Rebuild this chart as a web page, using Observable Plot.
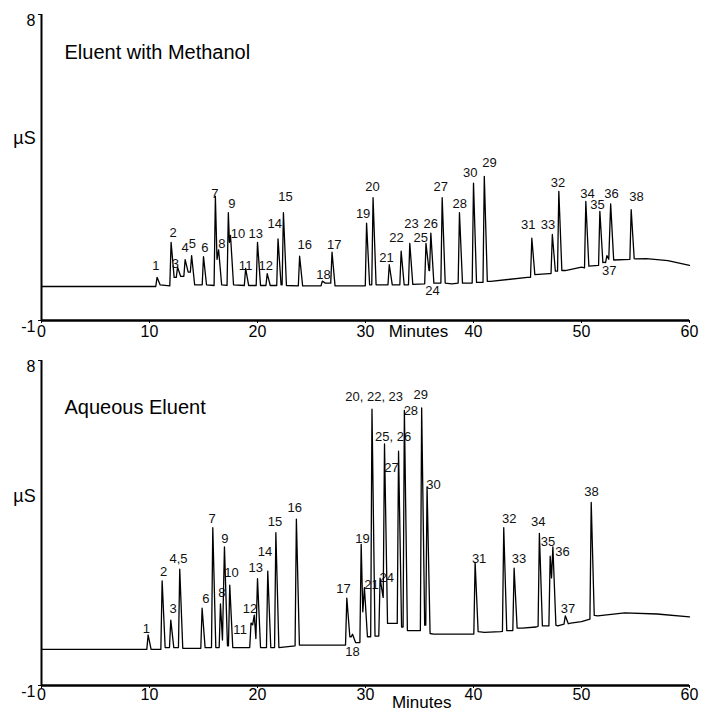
<!DOCTYPE html>
<html>
<head>
<meta charset="utf-8">
<script src="https://cdn.jsdelivr.net/npm/d3@7"></script>
<script src="https://cdn.jsdelivr.net/npm/@observablehq/plot@0.6"></script>
<style>
  html, body { margin: 0; padding: 0; background: #fff; }
  #chart svg { display: block; }
</style>
</head>
<body>
<div id="chart"></div>
<script>
// ---------- data ----------
// x tick labels (minutes) and y tick labels (µS)
const xTicks = [0, 10, 20, 30, 40, 50, 60];
const yTicks = [-1, 8];

// Panel 1: Eluent with Methanol — peaks [retention time, apex µS, left foot µS, right foot µS]
const methanolPeaks = [
  [10.7, 0.27, 0.0, 0.05], [12.0, 1.30, 0.02, 0.27], [12.6, 0.57, 0.27, 0.3],
  [13.3, 0.79, 0.3, 0.42], [13.9, 0.91, 0.42, 0.05], [15.0, 0.88, 0.05, 0.05],
  [16.1, 2.65, 0.03, 0.8], [16.4, 1.08, 0.8, 0.05], [17.3, 2.17, 0.03, 1.3],
  [17.5, 1.50, 1.3, 0.05], [18.9, 0.53, 0.03, 0.03], [20.0, 1.30, 0.03, 0.03],
  [20.9, 0.38, 0.03, 0.03], [21.9, 1.40, 0.03, 0.05], [22.4, 2.17, 0.05, 0.03],
  [23.9, 0.89, 0.02, 0.02], [26.0, 0.16, 0.02, 0.1], [26.9, 1.01, 0.1, 0.02],
  [30.1, 1.86, 0.02, 0.05], [30.7, 2.61, 0.05, 0.05], [32.2, 0.64, 0.05, 0.05],
  [33.3, 1.04, 0.05, 0.05], [34.1, 1.27, 0.05, 0.06], [35.6, 1.27, 0.08, 0.47],
  [36.05, 1.57, 0.47, 0.1], [37.1, 2.61, 0.1, 0.1], [38.7, 2.17, 0.1, 0.1],
  [40.0, 3.04, 0.1, 0.12], [41.0, 3.24, 0.12, 0.15], [45.4, 1.42, 0.27, 0.35],
  [47.3, 1.53, 0.38, 0.45], [47.9, 2.80, 0.45, 0.47], [50.4, 2.50, 0.55, 0.6],
  [51.7, 2.21, 0.62, 0.7], [52.35, 0.91, 0.7, 0.8], [52.7, 2.43, 0.8, 0.78],
  [54.6, 2.26, 0.8, 0.82]
];
const methanolBaseline = [
  [0, 0], [10.3, 0], [29.8, 0.02], [33.0, 0.05], [38.0, 0.08], [41.6, 0.15],
  [45.0, 0.27], [47.0, 0.38], [48.5, 0.47], [50.0, 0.57], [52.0, 0.72],
  [55.0, 0.81], [56.0, 0.82], [58.0, 0.76], [60.0, 0.62]
];
// peak labels [text, minutes, µS]
const methanolLabels = [
  ["1", 10.58, 0.62], ["2", 12.19, 1.58], ["3", 12.4, 0.67], ["4", 13.3, 1.13],
  ["5", 13.98, 1.25], ["6", 15.12, 1.13], ["7", 16.05, 2.74], ["8", 16.7, 1.25],
  ["9", 17.62, 2.43], ["10", 18.2, 1.55], ["11", 18.9, 0.62], ["12", 20.77, 0.62],
  ["13", 19.84, 1.55], ["14", 21.6, 1.84], ["15", 22.6, 2.63], ["16", 24.38, 1.24],
  ["17", 27.1, 1.24], ["18", 26.1, 0.35], ["19", 29.78, 2.14], ["20", 30.65, 2.92],
  ["21", 31.94, 0.84], ["22", 32.87, 1.43], ["23", 34.26, 1.84], ["24", 36.2, -0.14],
  ["25", 35.12, 1.43], ["26", 36.05, 1.84], ["27", 36.97, 2.92], ["28", 38.73, 2.43],
  ["30", 39.69, 3.34], ["29", 41.48, 3.64], ["31", 45.06, 1.82], ["33", 46.9, 1.82],
  ["32", 47.83, 3.04], ["34", 50.56, 2.73], ["35", 51.48, 2.41], ["36", 52.78, 2.73],
  ["37", 52.56, 0.47], ["38", 55.1, 2.63]
];

// Panel 2: Aqueous Eluent
const aqueousPeaks = [
  [9.87, 0.40, 0.0, 0.0], [11.17, 1.90, 0.0, 0.05], [11.97, 0.81, 0.05, 0.05],
  [12.8, 2.22, 0.05, 0.03], [14.87, 1.14, 0.03, 0.05], [15.86, 3.37, 0.05, 0.05],
  [16.57, 1.26, 0.05, 0.26], [16.94, 2.84, 0.26, 0.1], [17.43, 1.78, 0.1, 0.05],
  [19.4, 0.73, 0.05, 0.68], [19.7, 0.95, 0.68, 0.3], [20.0, 1.96, 0.3, 0.05],
  [20.95, 2.17, 0.05, 0.05], [21.7, 3.23, 0.05, 0.05], [23.6, 3.61, 0.1, 0.12],
  [28.27, 1.42, 0.12, 0.35], [28.8, 0.42, 0.35, 0.19], [29.6, 2.91, 0.19, 1.04],
  [29.9, 1.71, 1.04, 0.35], [30.6, 6.65, 0.35, 0.37], [31.35, 1.97, 0.37, 1.44],
  [31.76, 5.69, 1.44, 0.72], [33.06, 5.49, 0.72, 0.62], [33.6, 6.62, 0.62, 0.52],
  [35.2, 6.69, 0.52, 0.67], [35.7, 4.50, 0.67, 0.44], [40.15, 2.41, 0.43, 0.49],
  [42.8, 3.37, 0.5, 0.52], [43.76, 2.25, 0.52, 0.59], [46.1, 3.21, 0.64, 0.65],
  [47.1, 2.58, 0.65, 1.98], [47.35, 2.84, 1.98, 0.67], [48.5, 0.93, 0.7, 0.71],
  [50.9, 4.07, 0.84, 0.94]
];
const aqueousBaseline = [
  [0, 0], [9.6, 0], [24.2, 0.12], [27.9, 0.12], [36.3, 0.42], [40.0, 0.42],
  [41.0, 0.47], [42.5, 0.49], [44.5, 0.59], [45.8, 0.62], [47.8, 0.65],
  [49.0, 0.73], [50.0, 0.77], [51.5, 0.93], [54.0, 1.01], [57.0, 0.98], [60.0, 0.9]
];
const aqueousLabels = [
  ["1", 9.72, 0.58], ["2", 11.3, 2.16], ["3", 12.19, 1.11], ["4,5", 12.68, 2.52],
  ["6", 15.21, 1.39], ["7", 15.8, 3.62], ["8", 16.7, 1.56], ["9", 16.97, 3.07],
  ["10", 17.6, 2.13], ["11", 18.39, 0.55], ["12", 19.3, 1.11], ["13", 19.84, 2.25],
  ["14", 20.7, 2.69], ["15", 21.63, 3.53], ["16", 23.45, 3.92], ["17", 27.96, 1.67],
  ["18", 28.8, -0.06], ["19", 29.72, 3.06], ["21", 30.56, 1.79], ["24", 31.97, 1.98],
  ["20, 22, 23", 30.8, 6.99], ["29", 35.12, 7.05], ["28", 34.2, 6.62],
  ["25, 26", 32.56, 5.88], ["27", 32.4, 5.02], ["30", 36.3, 4.56], ["31", 40.52, 2.52],
  ["32", 43.3, 3.62], ["33", 44.22, 2.52], ["34", 46.0, 3.53], ["35", 46.9, 2.97],
  ["36", 48.24, 2.69], ["37", 48.76, 1.12], ["38", 50.93, 4.35]
];

// ---------- drawing ----------
const LW = 0.12, RW = 0.28; // peak half-widths in minutes (left / right)

function buildTrace(peaks, baseline) {
  const ps = peaks.map(([t, h, fl, fr]) => ({t, h, fl, fr, lt: t - LW, rt: t + RW, shareLeft: false}))
    .sort((a, b) => a.t - b.t);
  for (let i = 0; i < ps.length - 1; i++) {
    const a = ps[i], b = ps[i + 1];
    if (a.rt > b.lt) { const m = (a.t + b.t) / 2; a.rt = m; b.lt = m; b.shareLeft = true; }
  }
  const pts = [];
  for (const p of ps) {
    if (!p.shareLeft) pts.push({t: p.lt, v: p.fl});
    pts.push({t: p.t, v: p.h});
    pts.push({t: p.rt, v: p.fr});
  }
  for (const [t, v] of baseline) {
    if (!ps.some(p => t >= p.lt && t <= p.rt)) pts.push({t, v});
  }
  return pts.sort((a, b) => a.t - b.t);
}

const FONT = "'Liberation Sans', Arial, Helvetica, sans-serif";

function panel(o) {
  const trace = buildTrace(o.peaks, o.baseline);
  return Plot.plot({
    width: 704, height: o.height,
    marginTop: o.marginTop, marginBottom: o.marginBottom, marginLeft: 41, marginRight: 15,
    style: {fontFamily: FONT, fontSize: "16px", color: "#000", background: "#fff", overflow: "visible"},
    x: {domain: [0, 60], ticks: xTicks, tickSize: 3, tickPadding: o.xPad, tickFormat: d => String(d), label: null},
    y: {domain: [-1, 8], ticks: yTicks, tickSize: 3, tickPadding: 3, tickFormat: () => "", label: null},
    marks: [
      Plot.text(o.labels, {x: d => d[1], y: d => d[2], text: d => d[0], fontSize: 13, lineAnchor: "middle", fill: "#111"}),
      Plot.line(trace, {x: "t", y: "v", stroke: "#000", strokeWidth: 1.3}),
      Plot.ruleY([-1], {stroke: "#000", strokeWidth: 2.5}),
      Plot.ruleX([0], {y1: -1, y2: 8, stroke: "#000", strokeWidth: 2}),
      Plot.text(yTicks, {x: 0, y: d => d, text: d => String(d), dx: -6, dy: 6, textAnchor: "end", lineAnchor: "middle", fontSize: 16}),
      Plot.text([o.title], {frameAnchor: "top-left", dx: 23, dy: o.titleDy, fontSize: 20, textAnchor: "start", lineAnchor: "middle"}),
      Plot.text([{x: 0, y: o.usY}], {x: "x", y: "y", text: () => "µS", dx: -17, fontSize: 18, lineAnchor: "middle"}),
      Plot.text([{x: o.minutesX}], {x: "x", text: () => "Minutes", frameAnchor: "bottom", dy: o.minutesDy, fontSize: 17, lineAnchor: "middle"})
    ]
  });
}

const chart = document.getElementById("chart");
chart.append(panel({
  peaks: methanolPeaks, baseline: methanolBaseline, labels: methanolLabels,
  title: "Eluent with Methanol", titleDy: 38, usY: 4.35,
  height: 350, marginTop: 14, marginBottom: 30, xPad: 2,
  minutesX: 34.9, minutesDy: 11
}));
chart.append(panel({
  peaks: aqueousPeaks, baseline: aqueousBaseline, labels: aqueousLabels,
  title: "Aqueous Eluent", titleDy: 47, usY: 4.23,
  height: 362, marginTop: 10, marginBottom: 27, xPad: 0,
  minutesX: 35.2, minutesDy: 17
}));
</script>
</body>
</html>
